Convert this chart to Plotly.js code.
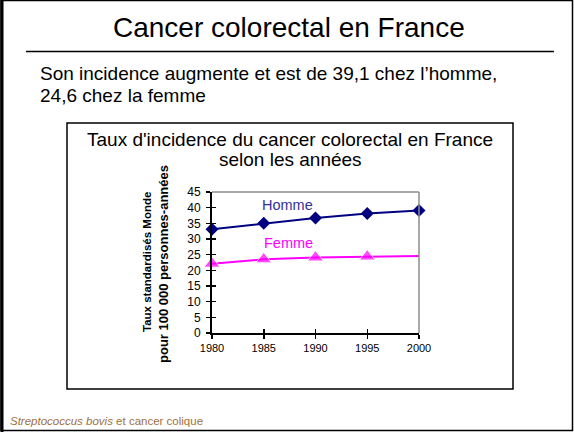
<!DOCTYPE html>
<html><head><meta charset="utf-8">
<script src="https://cdn.plot.ly/plotly-3.0.1.min.js"></script>
<style>html,body{margin:0;padding:0;background:#fff}#c{width:574px;height:432px}</style>
</head><body><div id="c"></div>
<script>
var years = [1980, 1985, 1990, 1995, 2000];
var homme = [33.1, 35.0, 36.7, 38.1, 39.1];
var femme = [22.1, 23.5, 24.1, 24.4, 24.6];
var yTicks = [0, 5, 10, 15, 20, 25, 30, 35, 40, 45];

var W = 574, H = 432;
var L = 212, R = 419, T = 192, B = 333;
function px(x){ return (x - L) / (R - L); }
function py(y){ return (B - y) / (B - T); }
var F = 'Arial, "Liberation Sans", sans-serif';

var traces = [
  {x: years, y: homme, type: 'scatter', mode: 'lines+markers', name: 'Homme',
   line: {color: '#000080', width: 2}, marker: {symbol: 'diamond', size: 10, color: '#000080'},
   cliponaxis: false},
  {x: years, y: femme, type: 'scatter', mode: 'lines+markers', name: 'Femme',
   line: {color: '#FF00FF', width: 2}, marker: {symbol: 'triangle-up', size: [14,14,14,14,0], color: '#FF00FF'},
   cliponaxis: false},
  {x: years, y: homme, type: 'scatter', mode: 'none', xaxis: 'x2', yaxis: 'y2', hoverinfo: 'skip', showlegend: false}
];

var layout = {
  width: W, height: H,
  margin: {l: L, r: W - R, t: T, b: H - B, pad: 0},
  paper_bgcolor: '#fff', plot_bgcolor: '#fff',
  showlegend: false,
  font: {family: F, color: '#000'},
  xaxis: {range: [1980, 2000], tickvals: years, ticktext: years.map(String),
          showgrid: false, zeroline: false, showline: true, linecolor: '#000', linewidth: 2,
          ticks: 'outside', ticklen: 4, tickwidth: 1.5, tickcolor: '#000',
          tickfont: {size: 11, family: F}, fixedrange: true},
  yaxis: {range: [0, 45], tickvals: yTicks, showgrid: false, zeroline: false,
          showline: true, linecolor: '#000', linewidth: 2,
          ticks: 'outside', ticklen: 4, tickwidth: 1.5, tickcolor: '#000',
          tickfont: {size: 12, family: F}, ticklabelstandoff: 3, fixedrange: true},
  xaxis2: {overlaying: 'x', range: [1980, 2000], tickvals: years, showticklabels: false,
           showgrid: false, zeroline: false, showline: false,
           ticks: 'inside', ticklen: 4, tickwidth: 1.5, tickcolor: '#000', anchor: 'y2', side: 'bottom'},
  yaxis2: {overlaying: 'y', range: [0, 45], tickvals: yTicks, showticklabels: false,
           showgrid: false, zeroline: false, showline: false,
           ticks: 'inside', ticklen: 4, tickwidth: 1.5, tickcolor: '#000', anchor: 'x2', side: 'left'},
  shapes: [
    {type: 'line', xref: 'paper', yref: 'paper', x0: 0, x1: 1, y0: 1, y1: 1, line: {color: '#8c8c8c', width: 1.5}},
    {type: 'line', xref: 'paper', yref: 'paper', x0: 1, x1: 1, y0: 0, y1: 1, line: {color: '#8c8c8c', width: 1.5}},
    {type: 'rect', xref: 'paper', yref: 'paper', x0: px(67), x1: px(513), y0: py(123), y1: py(389),
     line: {color: '#000', width: 1.5}, layer: 'below'},
    {type: 'line', xref: 'paper', yref: 'paper', x0: px(26), x1: px(554), y0: py(51.5), y1: py(51.5),
     line: {color: '#000', width: 1.5}},
    {type: 'rect', xref: 'paper', yref: 'paper', x0: px(1), x1: px(572.5), y0: py(0.5), y1: py(430.5),
     line: {color: '#000', width: 1.5}},
    {type: 'line', xref: 'paper', yref: 'paper', x0: px(2), x1: px(2), y0: py(0), y1: py(432),
     line: {color: '#000', width: 3}}
  ],
  annotations: [
    {text: 'Cancer colorectal en France', xref: 'paper', yref: 'paper', x: px(289), y: py(27.5),
     xanchor: 'center', yanchor: 'middle', showarrow: false, font: {size: 28, family: F, color: '#000'}},
    {text: 'Son incidence augmente et est de 39,1 chez l\u2019homme,', xref: 'paper', yref: 'paper',
     x: px(38), y: py(74), xanchor: 'left', yanchor: 'middle', showarrow: false, font: {size: 19, family: F, color: '#000'}},
    {text: '24,6 chez la femme', xref: 'paper', yref: 'paper',
     x: px(38), y: py(96), xanchor: 'left', yanchor: 'middle', showarrow: false, font: {size: 19, family: F, color: '#000'}},
    {text: 'Taux d\'incidence du cancer colorectal en France', xref: 'paper', yref: 'paper',
     x: px(290), y: py(139), xanchor: 'center', yanchor: 'middle', showarrow: false, font: {size: 19, family: F, color: '#000'}},
    {text: 'selon les ann\u00e9es', xref: 'paper', yref: 'paper',
     x: px(290), y: py(159), xanchor: 'center', yanchor: 'middle', showarrow: false, font: {size: 19, family: F, color: '#000'}},
    {text: 'Taux standardis\u00e9s Monde', xref: 'paper', yref: 'paper',
     x: px(147), y: py(262), xanchor: 'center', yanchor: 'middle', textangle: -90, showarrow: false,
     font: {size: 11.5, family: F, color: '#000', weight: 'bold'}},
    {text: 'pour 100 000 personnes-ann\u00e9es', xref: 'paper', yref: 'paper',
     x: px(163), y: py(264), xanchor: 'center', yanchor: 'middle', textangle: -90, showarrow: false,
     font: {size: 13, family: F, color: '#000', weight: 'bold'}},
    {text: 'Homme', xref: 'paper', yref: 'paper', x: px(287), y: py(205),
     xanchor: 'center', yanchor: 'middle', showarrow: false, font: {size: 14.5, family: F, color: '#333399'}},
    {text: 'Femme', xref: 'paper', yref: 'paper', x: px(288), y: py(243),
     xanchor: 'center', yanchor: 'middle', showarrow: false, font: {size: 14.5, family: F, color: '#FF00FF'}},
    {text: '<i>Streptococcus bovis</i> et cancer colique', xref: 'paper', yref: 'paper', x: px(8), y: py(421),
     xanchor: 'left', yanchor: 'middle', showarrow: false, font: {size: 11.5, family: F, color: '#A0703C'}}
  ]
};

Plotly.newPlot('c', traces, layout, {displayModeBar: false, staticPlot: true});
</script></body></html>
